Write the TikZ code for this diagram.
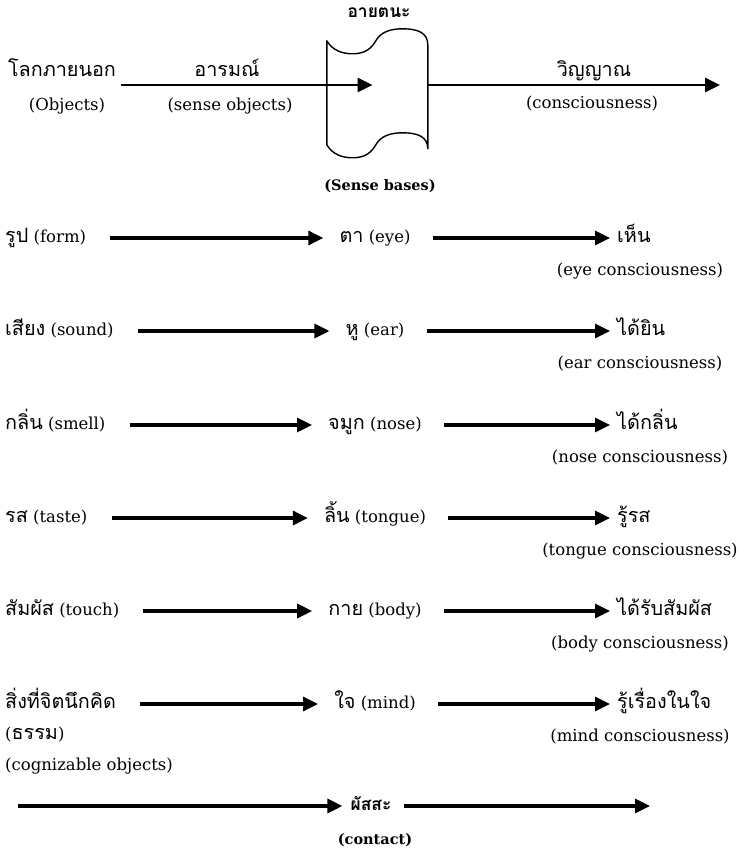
\documentclass[tikz,border=0pt]{standalone}
\usepackage{fontspec}
\setmainfont{DejaVu Serif}
\newfontfamily\thai[Script=Thai,Scale=1.2]{Loma}
\usepackage{tikz}
\usetikzlibrary{positioning}
\usetikzlibrary{arrows.meta}
\tikzstyle{lbl}=[inner sep=2pt, text height=13pt, text depth=4pt, font=\fontsize{16.5}{19}\selectfont]
\tikzstyle{boldlbl}=[inner sep=2pt, text height=12pt, text depth=3pt, font=\fontsize{14.5}{17}\selectfont\bfseries]
\tikzstyle{edge} = [draw, line width=3.2pt, -{Triangle[length=15pt,width=14pt]}]
\tikzstyle{topedge} = [draw, line width=2.8pt, -{Triangle[length=15pt,width=14pt]}]
\tikzstyle{senses} = [draw, line width=1.4pt, line join=round]

\begin{document}
\begin{tikzpicture}[x=1pt, y=-1pt]
 \useasboundingbox (0,0) rectangle (741,856);

 %top
 \node[minimum width=101pt, minimum height=104pt, inner sep=0pt] (bases) at (377.5,93) {};
 \path[senses] (bases.north west)
     .. controls +(6,10) and +(-10,0) .. ++(26,13)
     .. controls +(13,0) and +(-4,7) .. ++(23,-13)
     .. controls +(5,-9) and +(-12,0) .. ++(27,-12)
     .. controls +(15,0) and +(0,-12) .. ++(25,16)
     -- ++(0,104)
     .. controls +(0,-12) and +(15,0) .. ++(-25,-16)
     .. controls +(-12,0) and +(5,-9) .. ++(-27,12)
     .. controls +(-4,7) and +(13,0) .. ++(-23,13)
     .. controls +(-10,0) and +(6,10) .. ++(-26,-13)
     -- cycle;
 \node[boldlbl] (ayatana) at (379,13) {\thai อายตนะ};
 \node[boldlbl] (basesen) at (380,186) {(Sense bases)};

 \foreach \x/\y/\name/\label in {62/72/outer/{\thai โลกภายนอก}, 67/106/outeren/(Objects),
          227/72/arom/{\thai อารมณ์}, 230/106/aromen/(sense objects),
          594/72/vinyan/{\thai วิญญาณ}, 592/104/vinyanen/(consciousness)}
   \node[lbl] (\name) at (\x,\y) {\label};

 \coordinate (objstart) at (121,85);
 \coordinate (vinend) at (720,85);
 \path[topedge, shorten >=5pt] (objstart) -- (objstart -| bases.center);
 \path[topedge] (objstart -| bases.east) -- (vinend);

 %rows
 \foreach \k/\y/\obj/\base/\know/\eng in {
     1/238/{\thai รูป} (form)/{\thai ตา} (eye)/{\thai เห็น}/(eye consciousness),
     2/331/{\thai เสียง} (sound)/{\thai หู} (ear)/{\thai ได้ยิน}/(ear consciousness),
     3/425/{\thai กลิ่น} (smell)/{\thai จมูก} (nose)/{\thai ได้กลิ่น}/(nose consciousness),
     4/518/{\thai รส} (taste)/{\thai ลิ้น} (tongue)/{\thai รู้รส}/(tongue consciousness),
     5/611/{\thai สัมผัส} (touch)/{\thai กาย} (body)/{\thai ได้รับสัมผัส}/(body consciousness),
     6/704/{\thai สิ่งที่จิตนึกคิด}/{\thai ใจ} (mind)/{\thai รู้เรื่องในใจ}/(mind consciousness)}
 {
   \node[lbl, anchor=west] (obj\k) at (3,\y) {\obj};
   \node[lbl] (base\k) at (375,\y) {\base};
   \node[lbl, anchor=west] (know\k) at (615,\y) {\know};
   \node[lbl] (eng\k) at (640,\y+33) {\eng};
   \path[edge, shorten <=22pt, shorten >=14pt] (obj\k) -- (base\k);
   \path[edge, shorten <=20pt, shorten >=5pt] (base\k) -- (know\k);
 }
 \node[lbl, anchor=west] (dhamma) at (3,735) {({\thai ธรรม})};
 \node[lbl, anchor=west] (cogn) at (3,766) {(cognizable objects)};

 %contact
 \node[boldlbl] (phassa) at (371,806) {\thai ผัสสะ};
 \node[boldlbl] (contact) at (375,840) {(contact)};
 \coordinate (contstart) at (18,806);
 \coordinate (contend) at (650,806);
 \path[edge, shorten >=6pt] (contstart) -- (phassa);
 \path[edge, shorten <=10pt] (phassa) -- (contend);

\end{tikzpicture}
\end{document}
